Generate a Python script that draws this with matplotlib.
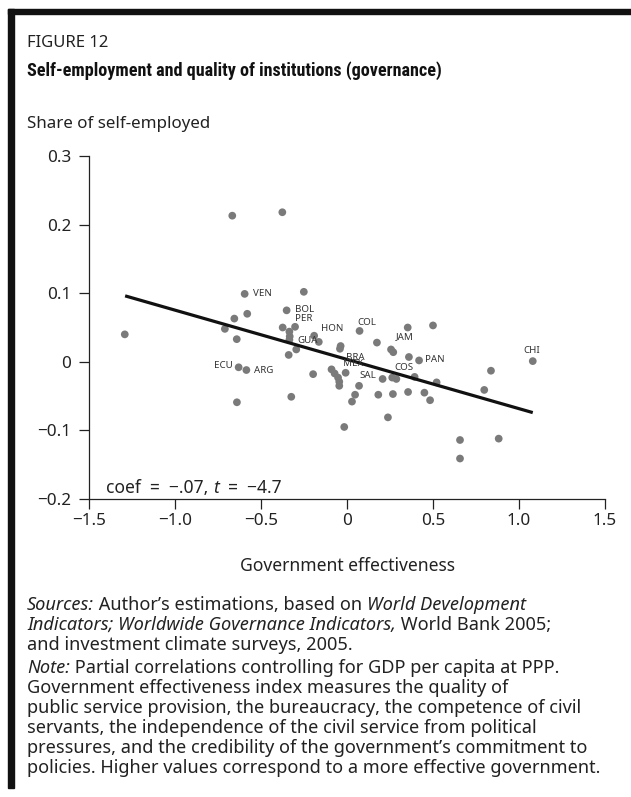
import matplotlib
matplotlib.use("Agg")
import matplotlib.pyplot as plt
from matplotlib.patches import Rectangle

# ================= DATA =================
gov_eff = [-1.292, -0.667, -0.376, -0.595, -0.251, -0.655, -0.580, -0.710, -0.641,
           -0.351, -0.374, -0.302, -0.335, -0.333, -0.335, -0.295, -0.339, -0.191,
           -0.164, -0.037, -0.041, -0.630, -0.585, -0.197, -0.640, -0.324, -0.090,
           -0.072, -0.052, -0.045, -0.045, -0.008, 0.073, 0.070, 0.047, 0.029,
           -0.016, 0.174, 0.256, 0.269, 0.353, 0.500, 0.360, 0.419, 0.207, 0.263,
           0.287, 0.393, 0.521, 0.182, 0.267, 0.355, 0.450, 0.483, 0.238, 0.837,
           0.798, 0.657, 0.657, 0.882, 1.080]
self_emp = [0.040, 0.213, 0.218, 0.099, 0.102, 0.063, 0.070, 0.048, 0.033,
            0.075, 0.050, 0.051, 0.044, 0.037, 0.032, 0.018, 0.010, 0.038,
            0.029, 0.023, 0.019, -0.008, -0.012, -0.018, -0.059, -0.051, -0.011,
            -0.017, -0.023, -0.029, -0.035, -0.016, 0.045, -0.035, -0.048, -0.058,
            -0.095, 0.028, 0.018, 0.014, 0.050, 0.053, 0.007, 0.002, -0.025, -0.023,
            -0.025, -0.022, -0.030, -0.048, -0.047, -0.044, -0.045, -0.056, -0.081, -0.013,
            -0.041, -0.114, -0.141, -0.112, 0.001]

# country labels and where their text sits (data units)
labels = ["VEN", "BOL", "PER", "HON", "GUA", "COL", "JAM", "BRA", "MEX",
          "SAL", "COS", "PAN", "CHI", "ECU", "ARG"]
label_x = [-0.549, -0.301, -0.301, -0.151, -0.288, 0.063, 0.283, -0.008, -0.021,
           0.072, 0.275, 0.455, 1.077, -0.667, -0.541]
label_y = [0.099, 0.076, 0.0625, 0.049, 0.031, 0.058, 0.037, 0.006, -0.003,
           -0.020, -0.009, 0.003, 0.017, -0.005, -0.013]
label_ha = ["left"] * 12 + ["center", "right", "left"]

# fitted line
coef = -0.0718
intercept = 0.0035
fit_range = [-1.29, 1.08]

xticks = [-1.5, -1.0, -0.5, 0, 0.5, 1.0, 1.5]
xticklabels = ["\u22121.5", "\u22121.0", "\u22120.5", "0", "0.5", "1.0", "1.5"]
yticks = [-0.2, -0.1, 0, 0.1, 0.2, 0.3]
yticklabels = ["\u22120.2", "\u22120.1", "0", "0.1", "0.2", "0.3"]

# ================= FIGURE =================
W, H = 631, 797
plt.rcParams["font.family"] = ["Noto Sans", "DejaVu Sans"]
TXT = "#222222"

fig = plt.figure(figsize=(W / 100, H / 100), dpi=100)
renderer = fig.canvas.get_renderer()


def fx(px):
    return px / W


def fy(py):
    return 1 - py / H


def runs_text(x_px, y_px, runs, size):
    # draws a line made of normal / italic pieces one after the other
    x = fx(x_px)
    for txt, style in runs:
        t = fig.text(x, fy(y_px), txt, fontsize=size, style=style, va="center", color=TXT)
        x += t.get_window_extent(renderer=renderer).width / W


# frame bars (top and left)
fig.patches.append(Rectangle((fx(8), fy(14)), fx(623), 5 / H, transform=fig.transFigure,
                             color="#111111", zorder=0))
fig.patches.append(Rectangle((fx(8), fy(788)), 6 / W, (788 - 9) / H, transform=fig.transFigure,
                             color="#111111", zorder=0))

fig.text(fx(27), fy(43), "FIGURE 12", fontsize=12, va="center", color=TXT)
fig.text(fx(27), fy(71), "Self-employment and quality of institutions (governance)",
         fontsize=13.1, fontweight="bold", va="center", color="#111111",
         family=["DejaVu Sans Condensed", "Liberation Sans Narrow", "Roboto Condensed", "Roboto"])
fig.text(fx(27), fy(124), "Share of self-employed", fontsize=12.2, va="center", color=TXT)

ax = fig.add_axes([fx(89), fy(499), fx(605) - fx(89), fy(156) - fy(499)])
ax.scatter(gov_eff, self_emp, s=31, color="#7a7a7a", edgecolors="none", zorder=3)
ax.plot(fit_range, [intercept + coef * v for v in fit_range], color="#111111", lw=2.3,
        solid_capstyle="butt", zorder=4)

for name, lx, ly, ha in zip(labels, label_x, label_y, label_ha):
    ax.text(lx, ly, name, fontsize=7.0, ha=ha, va="center", color="#333333", zorder=5)

ax.set_xlim(-1.5, 1.5)
ax.set_ylim(-0.2, 0.3)
ax.set_xticks(xticks)
ax.set_xticklabels(xticklabels)
ax.set_yticks(yticks)
ax.set_yticklabels(yticklabels)
for side in ["top", "right"]:
    ax.spines[side].set_visible(False)
for side in ["left", "bottom"]:
    ax.spines[side].set_linewidth(0.9)
    ax.spines[side].set_color(TXT)
ax.tick_params(direction="out", length=7, width=0.9, colors=TXT, labelsize=12.3)
ax.tick_params(axis="y", pad=6)
ax.tick_params(axis="x", pad=3)
ax.patch.set_alpha(0)

runs_text(106, 488, [("coef  =  \u2212.07, ", "normal"), ("t", "italic"),
                     ("  =  \u22124.7", "normal")], 12.6)

fig.text(fx(347), fy(566), "Government effectiveness", fontsize=12.6, ha="center",
         va="center", color=TXT)

# ================= NOTES =================
notes = [
    [("Sources:", "italic"), (" Author\u2019s estimations, based on ", "normal"),
     ("World Development", "italic")],
    [("Indicators; Worldwide Governance Indicators,", "italic"), (" World Bank 2005;", "normal")],
    [("and investment climate surveys, 2005.", "normal")],
    [("Note:", "italic"), (" Partial correlations controlling for GDP per capita at PPP.", "normal")],
    [("Government effectiveness index measures the quality of", "normal")],
    [("public service provision, the bureaucracy, the competence of civil", "normal")],
    [("servants, the independence of the civil service from political", "normal")],
    [("pressures, and the credibility of the government\u2019s commitment to", "normal")],
    [("policies. Higher values correspond to a more effective government.", "normal")],
]
note_y = [605, 625, 645, 668, 688, 708, 728, 748, 768]

for runs, py in zip(notes, note_y):
    runs_text(27, py, runs, 13.1)

fig.savefig("out.png", dpi=100)
